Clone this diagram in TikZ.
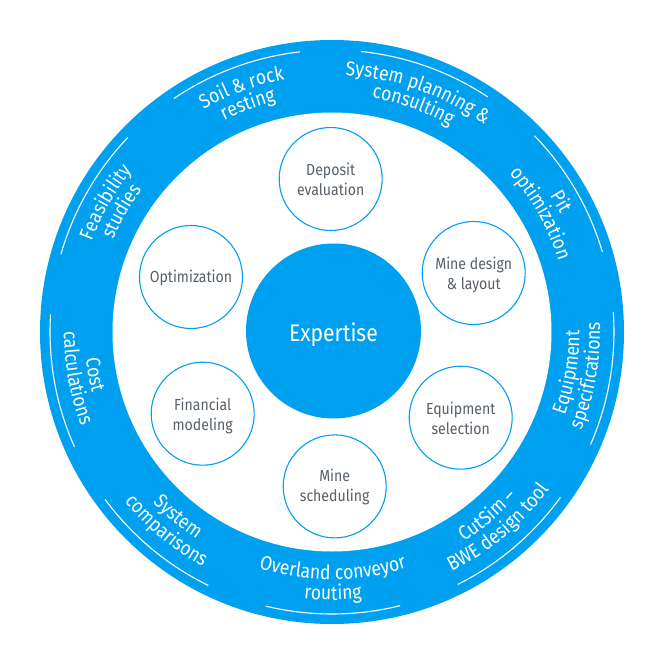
\documentclass[tikz,border=0pt]{standalone}
\usepackage{fontspec}
\setmainfont[FakeStretch=0.88]{Fira Sans}
\usetikzlibrary{decorations.text}
\definecolor{ringblue}{RGB}{0,160,241}
\definecolor{labelgrey}{RGB}{88,96,104}
\tikzset{
  topic/.style={circle, draw=ringblue, line width=1.1pt, fill=white, minimum size=103pt, inner sep=0pt},
  topictext/.style={align=center, text=labelgrey, inner sep=0pt, font=\fontsize{16}{20}\selectfont},
  core/.style={circle, fill=ringblue, minimum size=175pt, inner sep=0pt},
  coretext/.style={text=white, inner sep=0pt, font=\fontsize{24}{26}\selectfont},
  bandline/.style={white, line width=1.1pt},
  bandtext/.style={decoration={text along path, text align={center},
                   text={|\fontsize{20}{22}\selectfont\color{white}|#1}}, decorate}
}
\begin{document}
\begin{tikzpicture}[x=1pt, y=1pt]
  \useasboundingbox (-332,-332) rectangle (332,332);
  \fill[ringblue] (0,0) circle (292);
  \fill[white] (0,0) circle (219.5);
  % white rules in the band
  \foreach \ang in {110.3, 70.3, 30.3, -9.7, -49.7, -89.8, -129.8, -169.8, 150.2}
    \draw[bandline] (\ang-13.8:282) arc[start angle=\ang-13.8, end angle=\ang+13.8, radius=282];
  % labels that read clockwise
  \foreach \ang/\outerline/\innerline in {150.2/Feasibility/studies, 110.3/Soil {\&} rock/resting,
      70.3/System planning {\&}/consulting, 29.6/Pit/optimization} {
    \path[bandtext={\outerline}] (\ang+35:257) arc[start angle=\ang+35, end angle=\ang-35, radius=257];
    \path[bandtext={\innerline}] (\ang+35:237.5) arc[start angle=\ang+35, end angle=\ang-35, radius=237.5];
  }
  % labels that read counterclockwise
  \foreach \ang/\innerline/\outerline in {-9.7/Equipment/specifications, -49.7/CutSim –/BWE design tool,
      -89.8/Overland conveyor/routing, -129.8/System/comparisons, -169.8/Cost/calculations} {
    \path[bandtext={\innerline}] (\ang-35:247.5) arc[start angle=\ang-35, end angle=\ang+35, radius=247.5];
    \path[bandtext={\outerline}] (\ang-35:268) arc[start angle=\ang-35, end angle=\ang+35, radius=268];
  }
  \node[core, label={[coretext, yshift=-4pt]center:Expertise}] (expertise) at (1.5,1) {};
  \node[topic, label={[topictext]center:{Deposit\\evaluation}}] (deposit) at (-1.3,153) {};
  \node[topic, label={[topictext, yshift=-2pt]center:{Mine design\\\& layout}}] (design) at (141.7,59) {};
  \node[topic, label={[topictext, yshift=-1pt]center:{Equipment\\selection}}] (selection) at (128.7,-85.7) {};
  \node[topic, label={[topictext, yshift=-1pt]center:{Mine\\scheduling}}] (scheduling) at (2.7,-154.4) {};
  \node[topic, label={[topictext, yshift=-2pt]center:{Financial\\modeling}}] (financial) at (-129.3,-81.7) {};
  \node[topic, label={[topictext, yshift=-1pt]center:Optimization}] (optimization) at (-141,55) {};
\end{tikzpicture}
\end{document}
